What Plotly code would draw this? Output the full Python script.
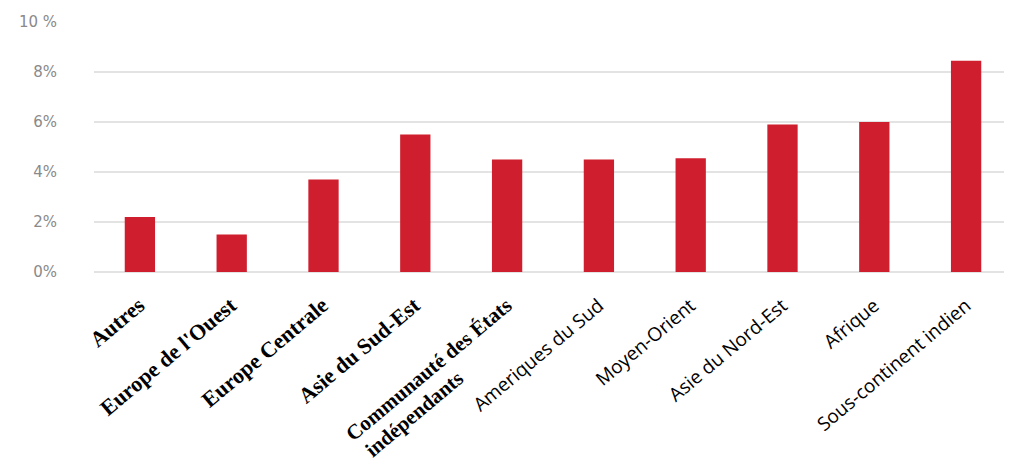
import plotly.graph_objects as go

NB = "\u00a0"
categories = ["Autres", "Europe de l'Ouest", "Europe Centrale", "Asie du Sud-Est",
              "Communauté des États<br>indépendants" + NB * 16, "Ameriques du Sud", "Moyen-Orient",
              "Asie du Nord-Est", "Afrique", "Sous-continent indien"]
values = [2.2, 1.5, 3.7, 5.5, 4.5, 4.5, 4.55, 5.9, 6.0, 8.45]
serif_labels = 5  # first five labels use a bold serif face in the original
y_tickvals = [0, 2, 4, 6, 8, 10]
y_ticktext = ["0%", "2%", "4%", "6%", "8%", "10 %"]

ticktext = []
for i, c in enumerate(categories):
    if i < serif_labels:
        size = 21 if "<br>" in c else 22
        ticktext.append('<span style="font-family:Liberation Serif;font-weight:bold;font-size:%dpx">' % size + c + '</span>')
    else:
        ticktext.append('<span style="font-family:Open Sans;font-size:19px">' + c + '</span>')

fig = go.Figure(go.Bar(
    x=list(range(len(categories))), y=values,
    marker=dict(color="#cf1e2d", line=dict(width=0)),
))

fig.update_layout(
    width=1004, height=462,
    margin=dict(l=86, r=0, t=14, b=198),
    paper_bgcolor="white", plot_bgcolor="white",
    bargap=0.67, showlegend=False,
    xaxis=dict(tickmode="array", tickvals=list(range(len(categories))), ticktext=ticktext,
               tickangle=-40, tickfont=dict(size=19, color="#000"),
               range=[-0.5, 9.5], showgrid=False, zeroline=False, showline=False,
               ticklabelstandoff=18, automargin=False),
    yaxis=dict(range=[0, 10], tickvals=y_tickvals, ticktext=y_ticktext,
               tickfont=dict(family="DejaVu Sans", size=15, color="#8a8a8a"),
               showgrid=True, gridcolor="#e3e3e3", gridwidth=1.5,
               zeroline=True, zerolinecolor="#e3e3e3", zerolinewidth=1.5,
               ticklabelstandoff=36, automargin=False),
)

fig.write_html("out.html")
